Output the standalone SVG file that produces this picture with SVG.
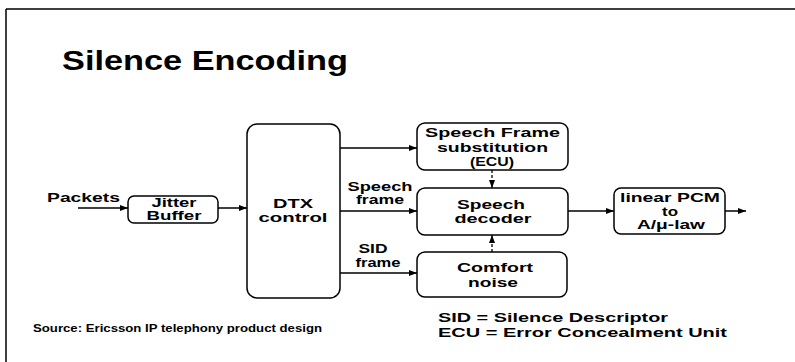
<svg xmlns="http://www.w3.org/2000/svg" width="795" height="362" viewBox="0 0 795 362">
<style>
text{font-family:"Liberation Sans",Arial,sans-serif;font-weight:bold;fill:#000}
.t{font-size:12.5px;text-anchor:middle}
.box{fill:#fff;stroke:#000;stroke-width:1.5}
.ln{stroke:#000;stroke-width:1.5;fill:none}
.dash{stroke:#000;stroke-width:1.3;fill:none;stroke-dasharray:3 2}
</style>
<defs>
<marker id="ah" viewBox="0 0 8 6" refX="8" refY="3" markerWidth="8" markerHeight="6" markerUnits="userSpaceOnUse" orient="auto">
<path d="M0,0 L8,3 L0,6 z" fill="#000"/>
</marker>
</defs>
<rect width="795" height="362" fill="#fff"/>
<g id="frame">
<path class="ln" d="M6,9 H795 M6,9 V362"/>
</g>
<g id="title">
<text x="62" y="70" font-size="27" textLength="286" lengthAdjust="spacingAndGlyphs">Silence Encoding</text>
</g>
<g id="packets">
<text x="47" y="202" font-size="12.5" textLength="73" lengthAdjust="spacingAndGlyphs">Packets</text>
</g>
<g id="jitter">
<rect class="box" x="128" y="196" width="90" height="27" rx="6"/>
<text class="t" x="174" y="207" textLength="45" lengthAdjust="spacingAndGlyphs">Jitter</text>
<text class="t" x="174" y="220" textLength="55" lengthAdjust="spacingAndGlyphs">Buffer</text>
</g>
<g id="dtx">
<rect class="box" x="247" y="124" width="93" height="174" rx="10"/>
<text class="t" x="293" y="208" textLength="40" lengthAdjust="spacingAndGlyphs">DTX</text>
<text class="t" x="293" y="222" textLength="69" lengthAdjust="spacingAndGlyphs">control</text>
</g>
<g id="ecu">
<rect class="box" x="417" y="123" width="151" height="47" rx="8"/>
<text class="t" x="492.5" y="137" textLength="135" lengthAdjust="spacingAndGlyphs">Speech Frame</text>
<text class="t" x="492.5" y="152" textLength="111" lengthAdjust="spacingAndGlyphs">substitution</text>
<text class="t" x="492" y="166" textLength="44" lengthAdjust="spacingAndGlyphs">(ECU)</text>
</g>
<g id="decoder">
<rect class="box" x="417" y="188" width="151" height="47" rx="8"/>
<text class="t" x="491" y="209" textLength="68" lengthAdjust="spacingAndGlyphs">Speech</text>
<text class="t" x="493" y="223" textLength="77" lengthAdjust="spacingAndGlyphs">decoder</text>
</g>
<g id="comfort">
<rect class="box" x="417" y="252" width="150" height="45" rx="8"/>
<text class="t" x="495" y="272" textLength="76" lengthAdjust="spacingAndGlyphs">Comfort</text>
<text class="t" x="493" y="287" textLength="50" lengthAdjust="spacingAndGlyphs">noise</text>
</g>
<g id="pcm">
<rect class="box" x="614" y="188" width="111" height="46" rx="7"/>
<text class="t" x="670" y="202" textLength="100" lengthAdjust="spacingAndGlyphs">linear PCM</text>
<text class="t" x="670" y="216" textLength="16" lengthAdjust="spacingAndGlyphs">to</text>
<text class="t" x="671" y="229" textLength="68" lengthAdjust="spacingAndGlyphs">A/μ-law</text>
</g>
<g id="labels">
<text class="t" x="380" y="191" textLength="65" lengthAdjust="spacingAndGlyphs">Speech</text>
<text class="t" x="380" y="204" textLength="48" lengthAdjust="spacingAndGlyphs">frame</text>
<text class="t" x="373" y="253" textLength="29" lengthAdjust="spacingAndGlyphs">SID</text>
<text class="t" x="378" y="267" textLength="45" lengthAdjust="spacingAndGlyphs">frame</text>
</g>
<g id="connectors">
<line class="ln" x1="78" y1="208" x2="128" y2="208" marker-end="url(#ah)"/>
<line class="ln" x1="218" y1="208" x2="247" y2="208" marker-end="url(#ah)"/>
<line class="ln" x1="340" y1="148" x2="417" y2="148" marker-end="url(#ah)"/>
<line class="ln" x1="340" y1="211" x2="417" y2="211" marker-end="url(#ah)"/>
<line class="ln" x1="340" y1="273" x2="417" y2="273" marker-end="url(#ah)"/>
<line class="dash" x1="492" y1="170" x2="492" y2="188" marker-end="url(#ah)"/>
<line class="dash" x1="492" y1="252" x2="492" y2="235" marker-end="url(#ah)"/>
<line class="ln" x1="568" y1="211" x2="614" y2="211" marker-end="url(#ah)"/>
<line class="ln" x1="725" y1="211" x2="746" y2="211" marker-end="url(#ah)"/>
</g>
<g id="notes">
<text x="438" y="322" font-size="13" textLength="230" lengthAdjust="spacingAndGlyphs">SID = Silence Descriptor</text>
<text x="438" y="337" font-size="13" textLength="289" lengthAdjust="spacingAndGlyphs">ECU = Error Concealment Unit</text>
<text x="33" y="332" font-size="10" textLength="289" lengthAdjust="spacingAndGlyphs">Source: Ericsson IP telephony product design</text>
</g>
</svg>
